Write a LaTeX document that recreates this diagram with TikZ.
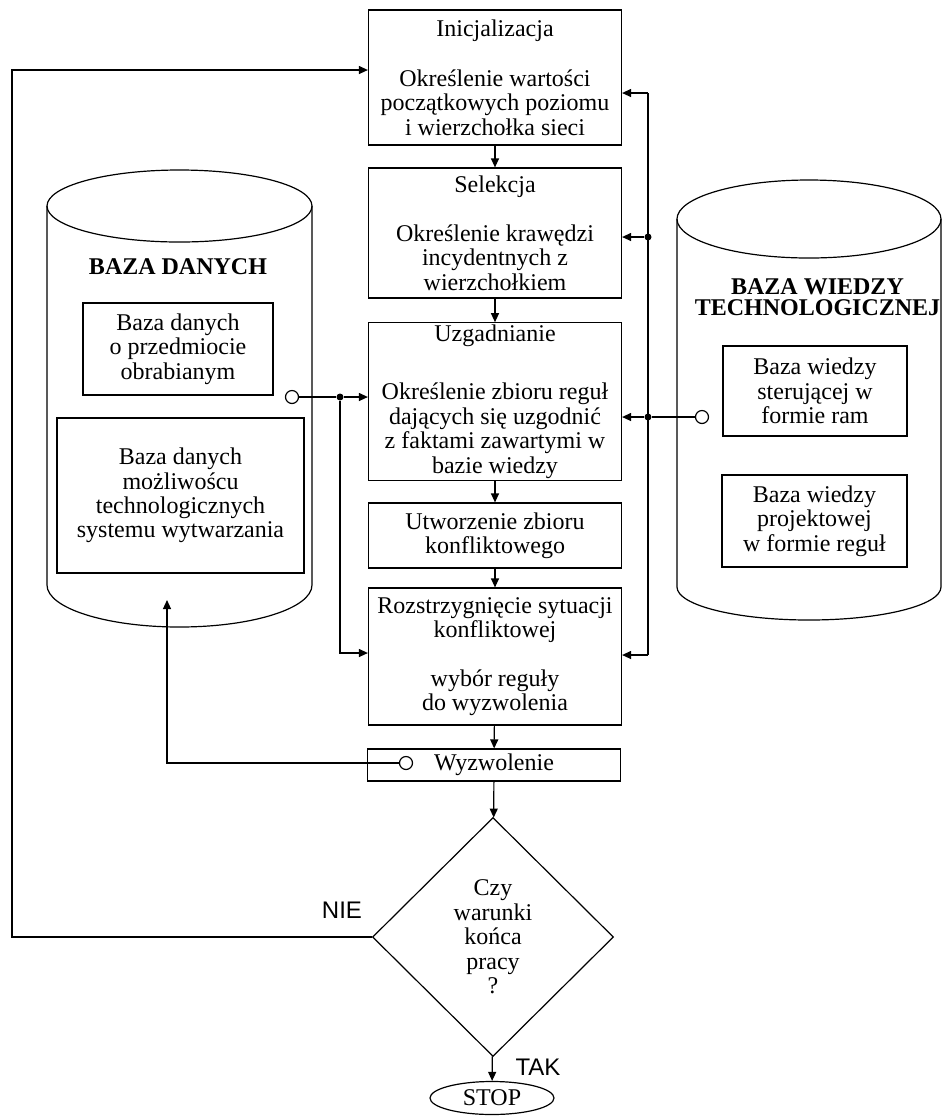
\documentclass[tikz,border=0pt]{standalone}
\usepackage{fontspec}
\setmainfont{Liberation Serif}
\newfontfamily\labelsans{Liberation Sans}
\usetikzlibrary{shapes.geometric,arrows.meta}

\tikzset{
  txt/.style={font=\fontsize{12}{12.2}\selectfont, align=center},
  proc/.style={txt, draw, minimum width=126.5pt, inner sep=1pt},
  inbox/.style={txt, draw, inner sep=1pt},
  junc/.style={circle, fill, inner sep=0pt, minimum size=3.5pt},
  port/.style={circle, draw, fill=white, inner sep=0pt, minimum size=6.5pt},
  arr/.style={-{Triangle[length=4.5pt,width=4pt]}},
  yesno/.style={font=\labelsans\fontsize{12}{12}\selectfont},
}

\begin{document}
\begin{tikzpicture}[x=0.5pt, y=-0.5pt, line width=0.6pt]
    \useasboundingbox (0,0) rectangle (945,1116);

    % cylinders
    \draw (179.5,206) ellipse [x radius=66.25pt, y radius=18pt];
    \draw (47,206) -- (47,585) arc[start angle=180, end angle=360, x radius=66.25pt, y radius=21pt] -- (312,206);
    \draw (809,219) ellipse [x radius=66pt, y radius=19.5pt];
    \draw (677,219) -- (677,587) arc[start angle=180, end angle=360, x radius=66pt, y radius=16.5pt] -- (941,219);

    \node[txt, font=\bfseries\fontsize{12}{12.2}\selectfont] (dbname) at (178,267) {BAZA DANYCH};
    \node[inbox, minimum width=95pt, minimum height=46pt] (dbpart) at (178,349) {Baza danych\\o przedmiocie\\obrabianym};
    \node[inbox, minimum width=123.5pt, minimum height=77.5pt] (dbsys) at (180.5,495.5) {Baza danych\\możliwoścu\\technologicznych\\systemu wytwarzania};

    \node[txt, font=\bfseries\fontsize{12}{10.5}\selectfont] (kbname) at (817.5,297) {BAZA WIEDZY\\TECHNOLOGICZNEJ};
    \node[inbox, minimum width=92pt, minimum height=45pt] (kbctrl) at (815,391) {Baza wiedzy\\sterującej w\\formie ram};
    \node[inbox, minimum width=92.5pt, minimum height=46pt] (kbrule) at (814.5,521) {Baza wiedzy\\projektowej\\w formie reguł};

    % main column
    \node[proc, minimum height=67.5pt] (init) at (495,77.5) {Inicjalizacja\\[13pt]Określenie wartości\\początkowych poziomu\\i wierzchołka sieci};
    \node[proc, minimum height=65pt] (sel) at (495,233) {Selekcja\\[12.5pt]Określenie krawędzi\\incydentnych z\\wierzchołkiem};
    \node[proc, minimum height=78.5pt] (uzg) at (495,401.5) {Uzgadnianie\\[17pt]Określenie zbioru reguł\\dających się uzgodnić\\z faktami zawartymi w\\bazie wiedzy};
    \node[proc, minimum height=32.5pt] (utw) at (495,535.5) {Utworzenie zbioru\\konfliktowego};
    \node[proc, minimum height=68.5pt] (roz) at (495,656.5) {Rozstrzygnięcie sytuacji\\konfliktowej\\[12pt]wybór reguły\\do wyzwolenia};
    \node[proc, minimum height=16pt] (wyz) at (494,765) {Wyzwolenie};
    \node[txt, draw, diamond, aspect=1, minimum width=120.5pt, minimum height=119.5pt, inner sep=0pt] (dec) at (493,937) {Czy\\warunki\\końca\\pracy\\?};
    \node[txt, draw, ellipse, minimum width=62pt, minimum height=16.5pt, inner sep=0pt] (stop) at (492,1098) {STOP};
    \node[yesno] (nie) at (342,910) {NIE};
    \node[yesno] (tak) at (538,1067) {TAK};

    \draw[arr] (init) -- (sel);
    \draw[arr] (sel) -- (uzg);
    \draw[arr] (uzg) -- (utw);
    \draw[arr] (utw) -- (roz);
    \draw[arr] (roz) -- (wyz);
    \draw[arr] (wyz) -- (dec);
    \draw[arr] (dec) -- (stop);

    % loop back when not finished
    \coordinate (lp) at (12,70);
    \draw[arr] (dec.west) -| (lp) -- (lp -| init.west);

    % data base side
    \node[port] (c1) at (292,397) {};
    \node[junc] (dl1) at (340,397) {};
    \coordinate (lb) at (340,653);
    \draw (c1) -- (dl1);
    \draw[arr] (dl1) -- (dl1 -| uzg.west);
    \draw[arr] (dl1) -- (lb) -- (lb -| roz.west);

    % knowledge base side
    \node[port] (c2) at (702,417) {};
    \node[junc] (dr1) at (648,237) {};
    \node[junc] (dr2) at (648,417) {};
    \coordinate (rt) at (648,93);
    \coordinate (rb) at (648,655);
    \draw (rt) -- (rb);
    \draw (c2) -- (dr2);
    \draw[arr] (rt) -- (rt -| init.east);
    \draw[arr] (dr1) -- (dr1 -| sel.east);
    \draw[arr] (dr2) -- (dr2 -| uzg.east);
    \draw[arr] (rb) -- (rb -| roz.east);

    % result written back
    \node[port] (c3) at (406,763) {};
    \coordinate (dbin) at (167,600);
    \draw[arr] (c3) -| (dbin);
\end{tikzpicture}
\end{document}
